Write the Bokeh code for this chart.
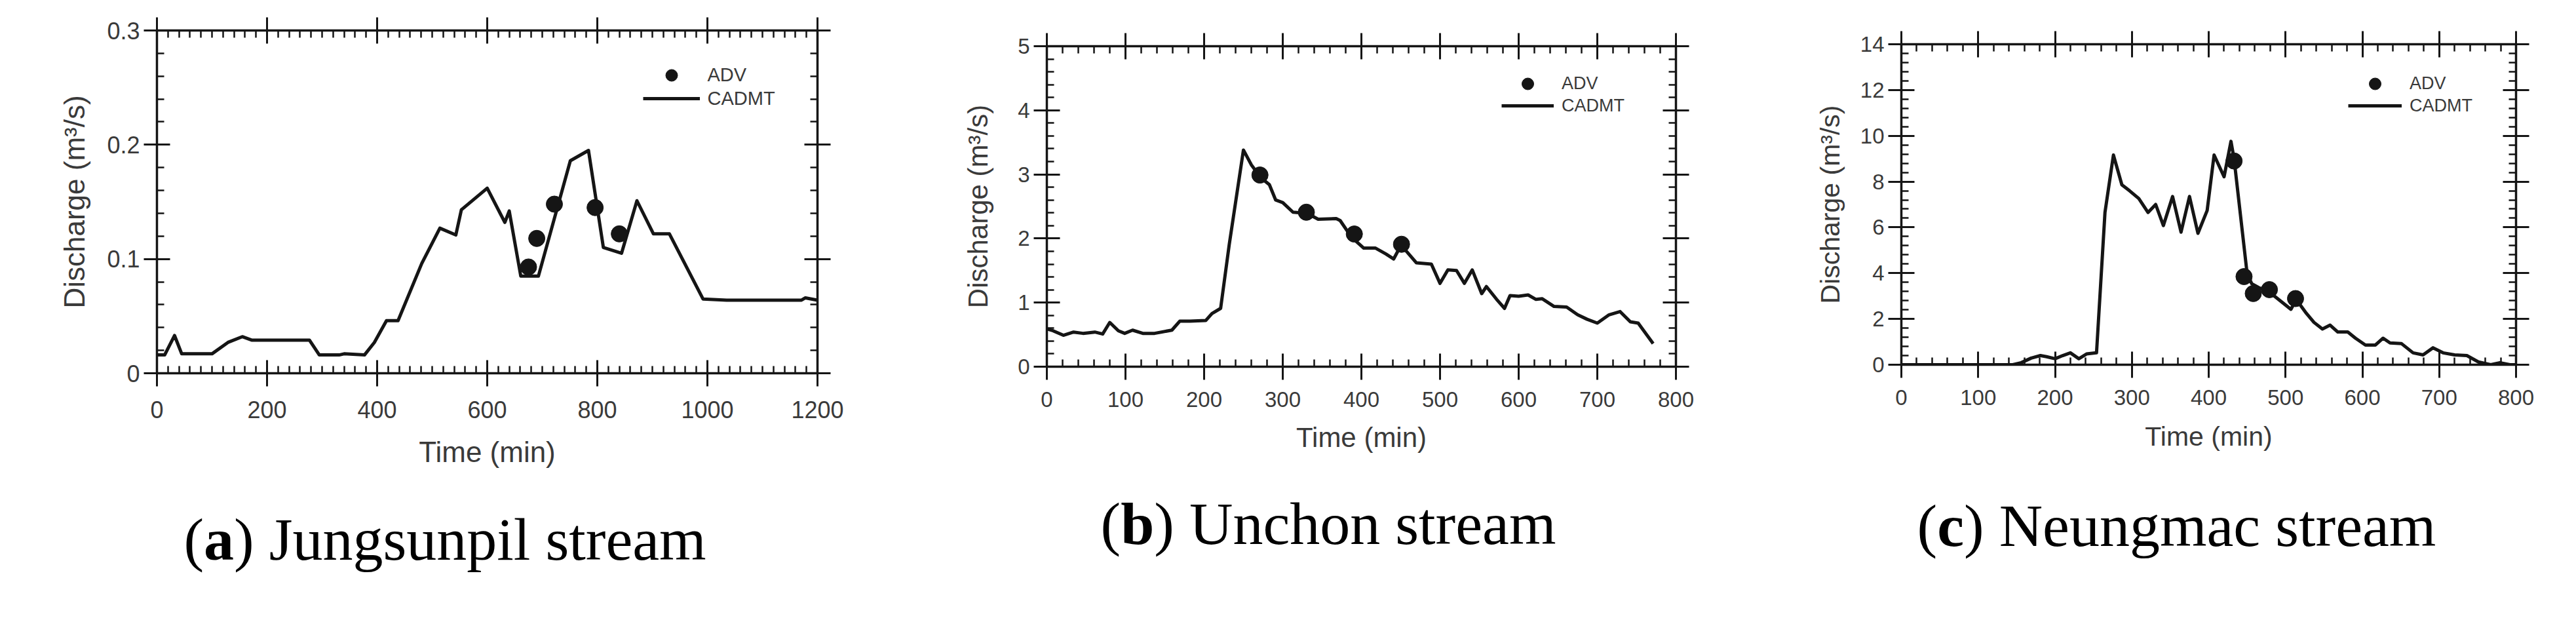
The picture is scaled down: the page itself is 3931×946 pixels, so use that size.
import numpy as np
from bokeh.plotting import figure
from bokeh.models import (Range1d, LinearAxis, FixedTicker, Legend, LegendItem, Div,
                          CustomLabelingPolicy)
from bokeh.layouts import row, column
from bokeh.embed import file_html
from bokeh.resources import INLINE

# ---------------- data ----------------
# (a) Jungsunpil stream
a_time = [0, 14, 32, 45, 100, 129, 155, 172, 277, 295, 331, 340, 377, 395, 417, 438, 481, 514,
          543, 553, 600, 632, 640, 661, 693, 751, 784, 811, 844, 872, 902, 931, 992, 1035, 1171,
          1178, 1200]
a_cadmt = [0.016, 0.016, 0.033, 0.017, 0.017, 0.027, 0.032, 0.029, 0.029, 0.016, 0.016, 0.017,
           0.016, 0.027, 0.046, 0.046, 0.096, 0.127, 0.121, 0.143, 0.162, 0.132, 0.142, 0.085,
           0.085, 0.186, 0.195, 0.110, 0.105, 0.151, 0.122, 0.122, 0.065, 0.064, 0.064, 0.066,
           0.064]
a_adv_time = [675, 690, 722, 796, 840]
a_adv = [0.093, 0.118, 0.148, 0.145, 0.122]

# (b) Unchon stream
b_time = [0, 8, 21, 34, 46, 61, 71, 80, 91, 99, 109, 122, 137, 159, 169, 182, 202, 210, 221,
          232, 250, 260, 272, 283, 291, 300, 313, 323, 333, 345, 368, 373, 383, 393, 403, 418,
          431, 441, 448, 456, 470, 489, 500, 510, 521, 531, 541, 553, 559, 572, 582, 589, 600,
          612, 622, 630, 645, 661, 675, 687, 700, 715, 729, 742, 752, 771]
b_cadmt = [0.59, 0.56, 0.49, 0.54, 0.52, 0.54, 0.51, 0.69, 0.56, 0.52, 0.57, 0.52, 0.52, 0.57,
           0.71, 0.71, 0.72, 0.83, 0.91, 1.91, 3.38, 3.15, 2.95, 2.84, 2.60, 2.56, 2.41, 2.40,
           2.38, 2.30, 2.31, 2.28, 2.10, 1.96, 1.85, 1.85, 1.76, 1.68, 1.84, 1.82, 1.62, 1.60,
           1.30, 1.51, 1.50, 1.30, 1.51, 1.14, 1.25, 1.05, 0.91, 1.11, 1.10, 1.12, 1.05, 1.06,
           0.94, 0.93, 0.81, 0.74, 0.68, 0.81, 0.86, 0.70, 0.68, 0.36]
b_adv_time = [271, 330, 391, 451]
b_adv = [2.99, 2.41, 2.07, 1.91]

# (c) Neungmac stream
c_time = [0, 145, 156, 169, 181, 189, 200, 210, 220, 231, 241, 254, 265, 276, 287, 297, 309,
          321, 331, 341, 353, 364, 375, 386, 398, 407, 420, 429, 433, 450, 456, 465, 478, 494,
          507, 514, 527, 537, 548, 558, 568, 581, 591, 604, 617, 627, 636, 651, 666, 679, 692,
          705, 720, 736, 751, 767, 779, 792, 800]
c_cadmt = [0.0, 0.0, 0.09, 0.29, 0.40, 0.35, 0.26, 0.40, 0.52, 0.26, 0.47, 0.52, 6.65, 9.16,
           7.86, 7.60, 7.26, 6.65, 7.00, 6.08, 7.35, 5.79, 7.35, 5.74, 6.74, 9.16, 8.21, 9.76,
           9.00, 3.98, 3.54, 3.37, 3.20, 2.77, 2.42, 2.85, 2.25, 1.85, 1.56, 1.73, 1.43, 1.43,
           1.16, 0.86, 0.86, 1.16, 0.95, 0.92, 0.52, 0.43, 0.74, 0.52, 0.43, 0.40, 0.12, 0.0,
           0.09, 0.0, 0.0]
c_adv_time = [433, 446, 458, 479, 513]
c_adv = [8.90, 3.85, 3.11, 3.28, 2.89]

# ticks and labels
a_xticks = [0, 200, 400, 600, 800, 1000, 1200]
a_xlabels = ["0", "200", "400", "600", "800", "1000", "1200"]
a_yticks = [0, 0.1, 0.2, 0.3]
a_ylabels = ["0", "0.1", "0.2", "0.3"]
b_xticks = [0, 100, 200, 300, 400, 500, 600, 700, 800]
b_xlabels = ["0", "100", "200", "300", "400", "500", "600", "700", "800"]
b_yticks = [0, 1, 2, 3, 4, 5]
b_ylabels = ["0", "1", "2", "3", "4", "5"]
c_xticks = [0, 100, 200, 300, 400, 500, 600, 700, 800]
c_xlabels = ["0", "100", "200", "300", "400", "500", "600", "700", "800"]
c_yticks = [0, 2, 4, 6, 8, 10, 12, 14]
c_ylabels = ["0", "2", "4", "6", "8", "10", "12", "14"]

x_title = "Time (min)"
y_title = "Discharge (m\u00b3/s)"
series_names = ["ADV", "CADMT"]

INK = "#151515"
TXT = "#3a3a3a"
FONT = "Liberation Sans"


def minor_list(ticks, n):
    out = []
    for i in range(len(ticks) - 1):
        step = (ticks[i + 1] - ticks[i]) / n
        for k in range(1, n):
            out.append(round(ticks[i] + k * step, 6))
    return out


def style_axis(ax, ticker, labels, show_labels, lab_size, title, title_size, standoff, lab_standoff):
    ax.ticker = ticker
    ax.axis_line_color = INK
    ax.axis_line_width = 3.5
    ax.major_tick_line_color = INK
    ax.major_tick_line_width = 3
    ax.minor_tick_line_color = INK
    ax.minor_tick_line_width = 2.5
    ax.major_tick_in = 20
    ax.major_tick_out = 20
    ax.minor_tick_in = 11
    ax.minor_tick_out = 0
    if show_labels:
        ax.major_label_overrides = labels
        ax.major_label_text_font = FONT
        ax.major_label_text_font_size = lab_size
        ax.major_label_text_color = TXT
        ax.major_label_standoff = lab_standoff
        ax.axis_label = title
        ax.axis_label_text_font = FONT
        ax.axis_label_text_font_size = title_size
        ax.axis_label_text_font_style = "normal"
        ax.axis_label_text_color = TXT
        ax.axis_label_standoff = standoff
    else:
        # frame side: ticks only, no labels drawn at all
        ax.major_label_policy = CustomLabelingPolicy(
            code="for (const i of indices) { indices.unset(i) }\nreturn indices")
        ax.major_label_standoff = 0


def make_panel(t, q, t_adv, q_adv, xt, xl, yt, yl, xmax, ymax, xminor, yminor,
               width, borders, lab_size, title_size, ystandoff, xstandoff, xlab_standoff,
               leg_x, leg_y1, leg_y2, glyph_w, leg_font):
    left, right, top, bottom = borders
    p = figure(width=width, height=720, x_range=Range1d(0, xmax), y_range=Range1d(0, ymax),
               output_backend="svg", toolbar_location=None,
               min_border_left=left, min_border_right=right,
               min_border_top=top, min_border_bottom=bottom,
               x_axis_location=None, y_axis_location=None)
    p.outline_line_color = None
    p.xgrid.visible = False
    p.ygrid.visible = False
    p.background_fill_color = "white"
    p.border_fill_color = "white"

    xticker = FixedTicker(ticks=xt, minor_ticks=minor_list(xt, xminor))
    yticker = FixedTicker(ticks=yt, minor_ticks=minor_list(yt, yminor))
    xlab = {v: s for v, s in zip(xt, xl)}
    ylab = {v: s for v, s in zip(yt, yl)}

    bottom_ax = LinearAxis()
    style_axis(bottom_ax, xticker, xlab, True, lab_size, x_title, title_size, xstandoff,
               xlab_standoff)
    p.add_layout(bottom_ax, "below")
    left_ax = LinearAxis()
    style_axis(left_ax, yticker, ylab, True, lab_size, y_title, title_size, ystandoff, 6)
    p.add_layout(left_ax, "left")
    top_ax = LinearAxis()
    style_axis(top_ax, xticker, xlab, False, lab_size, None, title_size, 0, 0)
    p.add_layout(top_ax, "above")
    right_ax = LinearAxis()
    style_axis(right_ax, yticker, ylab, False, lab_size, None, title_size, 0, 0)
    p.add_layout(right_ax, "right")

    r_line = p.line(t, q, line_color=INK, line_width=5, line_join="round")
    r_pts = p.scatter(t_adv, q_adv, marker="circle", size=25, fill_color=INK, line_color=INK)

    common = dict(glyph_width=glyph_w, padding=0, margin=0, spacing=0, label_standoff=12,
                  border_line_color=None, background_fill_alpha=0,
                  label_text_font=FONT, label_text_font_size=leg_font,
                  label_text_color=TXT)
    leg1 = Legend(items=[LegendItem(label=series_names[0], renderers=[r_pts])],
                  location=(leg_x - glyph_w / 2, leg_y1 - 22.5), glyph_height=45, **common)
    leg2 = Legend(items=[LegendItem(label=series_names[1], renderers=[r_line])],
                  location=(leg_x - glyph_w / 2, leg_y2 - 17), glyph_height=34, **common)
    p.add_layout(leg1)
    p.add_layout(leg2)
    return p


def caption(letter, name, width, shift, top):
    html = ('<div style="position:relative;left:%dpx;top:%dpx;width:%dpx;text-align:center;'
            'white-space:nowrap;font-family:\'Liberation Serif\';font-size:92px;'
            'line-height:92px;color:#000;">(<b>%s</b>) %s</div>' % (shift, top, width, letter, name))
    return Div(text=html, width=width, height=210)


pa = make_panel(a_time, a_cadmt, a_adv_time, a_adv, a_xticks, a_xlabels, a_yticks, a_ylabels,
                1200, 0.3, 10, 5, 1412, (239, 165, 46, 151), "36px", "44px", 22, 24, 22,
                785, 455, 419, 87, "29px")
pb = make_panel(b_time, b_cadmt, b_adv_time, b_adv, b_xticks, b_xlabels, b_yticks, b_ylabels,
                800, 5, 5, 5, 1320, (175, 185, 70, 161), "33px", "42px", 34, 20, 18,
                734, 432, 398, 80, "27px")
pc = make_panel(c_time, c_cadmt, c_adv_time, c_adv, c_xticks, c_xlabels, c_yticks, c_ylabels,
                800, 14, 5, 5, 1183, (149, 96, 67, 164), "33px", "41px", 20, 22, 18,
                723, 429, 395, 82, "27px")

ca = caption("a", "Jungsunpil stream", 1412, -32, 52)
cb = caption("b", "Unchon stream", 1320, -60, 28)
cc = caption("c", "Neungmac stream", 1183, -27, 31)

layout = row(column(pa, ca), column(pb, cb), column(pc, cc))

with open("out.html", "w") as f:
    f.write(file_html(layout, INLINE))
